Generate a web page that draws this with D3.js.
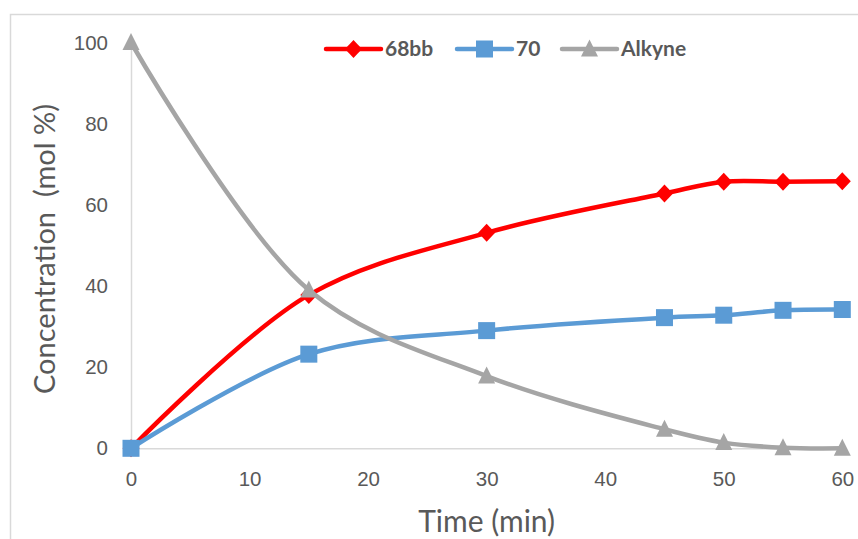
<!DOCTYPE html>
<html>
<head>
<meta charset="utf-8">
<script src="https://cdn.jsdelivr.net/npm/d3@7/dist/d3.min.js"></script>
<style>
  html, body { margin: 0; padding: 0; background: #fff; }
  svg { display: block; font-family: Lato, "Open Sans", sans-serif; }
</style>
</head>
<body>
<svg id="chart" width="858" height="539"></svg>
<script>
// Reaction time course (minutes) and concentrations (mol %)
const times = [0, 15, 30, 45, 50, 55, 60];
const product68bb = [0, 37.8, 53.1, 62.8, 65.7, 65.7, 65.8];
const product70 = [0, 23.2, 29.0, 32.2, 32.8, 34.0, 34.2];
const alkyne = [100, 39.0, 17.8, 4.7, 1.4, 0.15, 0];

const xTicks = [0, 10, 20, 30, 40, 50, 60];
const yTicks = [0, 20, 40, 60, 80, 100];

const seriesNames = ["68bb", "70", "Alkyne"];
const seriesColors = ["#ff0000", "#5b9bd5", "#a5a5a5"];
const seriesSymbols = ["diamond", "square", "triangle"];

const series = [product68bb, product70, alkyne].map((vals, i) => ({
  name: seriesNames[i],
  color: seriesColors[i],
  symbol: seriesSymbols[i],
  points: times.map((t, j) => ({ t, v: vals[j] }))
}));

const svg = d3.select("#chart");
const textColor = "#595959";
const axisColor = "#d9d9d9";

// Outer chart frame (left and top edges)
svg.append("path")
  .attr("d", "M10.5,539 V14.5 H858")
  .attr("fill", "none")
  .attr("stroke", axisColor)
  .attr("stroke-width", 1.5);

const plot = { left: 131, right: 842.3, top: 42.5, bottom: 448.3 };

const x = d3.scaleLinear().domain([0, 60]).range([plot.left, plot.right]);
const y = d3.scaleLinear().domain([0, 100]).range([plot.bottom, plot.top]);

// Y axis
const yAxis = svg.append("g")
  .attr("transform", `translate(${plot.left},0)`)
  .call(d3.axisLeft(y).tickValues(yTicks).tickSize(0).tickPadding(23));
yAxis.select(".domain").attr("stroke", axisColor).attr("stroke-width", 1.5);
yAxis.selectAll("text")
  .attr("fill", textColor)
  .style("font-size", "20.5px");

// X axis
const xAxis = svg.append("g")
  .attr("transform", `translate(0,${plot.bottom})`)
  .call(d3.axisBottom(x).tickValues(xTicks).tickSize(0).tickPadding(22));
xAxis.select(".domain").attr("stroke", axisColor).attr("stroke-width", 1.5);
xAxis.selectAll("text")
  .attr("fill", textColor)
  .style("font-size", "20.5px");
xAxis.selectAll(".tick text").attr("dy", "0.32em").attr("y", 31);

// Axis titles
svg.append("text")
  .attr("x", (plot.left + plot.right) / 2)
  .attr("y", 532)
  .attr("text-anchor", "middle")
  .attr("fill", textColor)
  .style("font-size", "30px")
  .text("Time (min)");

svg.append("text")
  .attr("transform", `translate(55,249) rotate(-90)`)
  .attr("text-anchor", "middle")
  .attr("fill", textColor)
  .style("font-size", "29px")
  .style("white-space", "pre")
  .attr("xml:space", "preserve")
  .text("Concentration  (mol %)");

// Marker shapes
function marker(sel, symbol, color) {
  if (symbol === "diamond") {
    sel.append("path").attr("d", "M0,-9 L8.5,0 L0,9 L-8.5,0 Z").attr("fill", color);
  } else if (symbol === "square") {
    sel.append("rect").attr("x", -8.5).attr("y", -8.5).attr("width", 17).attr("height", 17).attr("fill", color);
  } else {
    sel.append("path").attr("d", "M0,-9.5 L8.5,7.5 L-8.5,7.5 Z").attr("fill", color);
  }
}

const line = d3.line()
  .x(d => x(d.t))
  .y(d => y(d.v))
  .curve(d3.curveCatmullRom.alpha(0.5));

series.forEach(s => {
  const g = svg.append("g").attr("class", "series");
  g.append("path")
    .datum(s.points)
    .attr("d", line)
    .attr("fill", "none")
    .attr("stroke", s.color)
    .attr("stroke-width", 4.5)
    .attr("stroke-linejoin", "round");
  s.points.forEach(p => {
    const m = g.append("g").attr("transform", `translate(${x(p.t)},${y(p.v)})`);
    marker(m, s.symbol, s.color);
  });
});

// Legend
const legendItems = [
  { lineX0: 326, lineX1: 381, textX: 385 },
  { lineX0: 457, lineX1: 512, textX: 516 },
  { lineX0: 562, lineX1: 617, textX: 621 }
];
const legendY = 49;
series.forEach((s, i) => {
  const li = legendItems[i];
  const g = svg.append("g").attr("class", "legend-item");
  g.append("line")
    .attr("x1", li.lineX0).attr("x2", li.lineX1)
    .attr("y1", legendY).attr("y2", legendY)
    .attr("stroke", s.color).attr("stroke-width", 4.5)
    .attr("stroke-linecap", "round");
  const m = g.append("g").attr("transform", `translate(${(li.lineX0 + li.lineX1) / 2},${legendY})`);
  marker(m, s.symbol, s.color);
  g.append("text")
    .attr("x", li.textX)
    .attr("y", legendY)
    .attr("dy", "0.35em")
    .attr("fill", textColor)
    .style("font-size", "21px")
    .style("font-weight", "bold")
    .text(s.name);
});
</script>
</body>
</html>
